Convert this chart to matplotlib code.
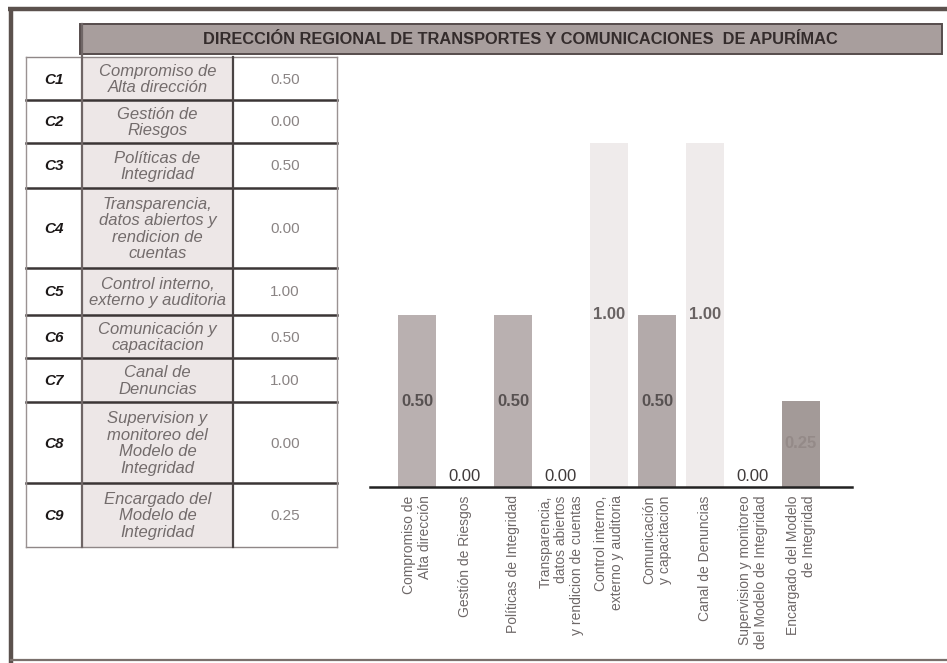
import matplotlib
matplotlib.use('Agg')
import matplotlib.pyplot as plt
from matplotlib.patches import Rectangle
import numpy as np

plt.rcParams['font.family'] = ['Liberation Sans', 'DejaVu Sans']

# ---------------- data ----------------
title = "DIRECCIÓN REGIONAL DE TRANSPORTES Y COMUNICACIONES  DE APURÍMAC"
codes = ["C1", "C2", "C3", "C4", "C5", "C6", "C7", "C8", "C9"]
table_names = [
    "Compromiso de\nAlta dirección",
    "Gestión de\nRiesgos",
    "Políticas de\nIntegridad",
    "Transparencia,\ndatos abiertos y\nrendicion de\ncuentas",
    "Control interno,\nexterno y auditoria",
    "Comunicación y\ncapacitacion",
    "Canal de\nDenuncias",
    "Supervision y\nmonitoreo del\nModelo de\nIntegridad",
    "Encargado del\nModelo de\nIntegridad",
]
table_values = ["0.50", "0.00", "0.50", "0.00", "1.00", "0.50", "1.00", "0.00", "0.25"]
bar_labels = [
    "Compromiso de\nAlta dirección",
    "Gestión de Riesgos",
    "Políticas de Integridad",
    "Transparencia,\ndatos abiertos\ny rendicion de cuentas",
    "Control interno,\nexterno y auditoria",
    "Comunicación\ny capacitacion",
    "Canal de Denuncias",
    "Supervision y monitoreo\ndel Modelo de Integridad",
    "Encargado del Modelo\nde Integridad",
]
bar_values = [0.50, 0.00, 0.50, 0.00, 1.00, 0.50, 1.00, 0.00, 0.25]

# ---------------- styles ----------------
bar_colors = ["#b9b0b0", "#b9b0b0", "#b9b0b0", "#b9b0b0", "#efebeb",
              "#b3aaaa", "#efebeb", "#b9b0b0", "#a39a98"]
label_colors = ["#575151", "#3f3a3a", "#575151", "#3f3a3a", "#686262",
                "#575151", "#686262", "#3f3a3a", "#948a88"]

W, H = 947, 663
fig = plt.figure(figsize=(W / 100, H / 100), dpi=100)
fig.patch.set_facecolor("white")

bg = fig.add_axes([0, 0, 1, 1])
bg.set_xlim(0, W)
bg.set_ylim(H, 0)
bg.axis("off")

# outer frame
frame_c = "#5b514d"
bg.plot([8, W], [9, 9], color=frame_c, lw=3.2, solid_capstyle="butt")
bg.plot([10.5, 10.5], [8, H], color=frame_c, lw=3.2, solid_capstyle="butt")
bg.plot([10, W], [660, 660], color="#7a706c", lw=1.6, solid_capstyle="butt")

# header band
bg.add_patch(Rectangle((80, 24), 862, 30, facecolor="#a89e9d",
                       edgecolor="#564c4c", lw=1.4))
bg.text(520, 39.5, title, ha="center", va="center", fontsize=11.8,
        fontweight="bold", color="#342c2c")

# table
row_edges = [57, 100, 143, 188, 268, 315, 358, 402, 483, 547]
col_edges = [26, 82, 233, 337]
x0, x1, x2, x3 = col_edges
for i, code in enumerate(codes):
    ya, yb = row_edges[i], row_edges[i + 1]
    yc = (ya + yb) / 2
    bg.add_patch(Rectangle((x1, ya), x2 - x1, yb - ya, facecolor="#ede7e7",
                           edgecolor="none"))
    bg.text((x0 + x1) / 2, yc + 1, code, ha="center", va="center",
            fontsize=11, fontweight="bold", fontstyle="italic",
            color="#1c1818")
    bg.text((x1 + x2) / 2, yc + 1, table_names[i], ha="center", va="center",
            fontsize=12, fontstyle="italic", color="#736c6c",
            linespacing=1.12, multialignment="center")
    bg.text((x2 + x3) / 2, yc + 1, table_values[i], ha="center",
            va="center", fontsize=11, color="#8a8484")

# table lines
for k, y in enumerate(row_edges):
    if k == 0 or k == len(row_edges) - 1:
        bg.plot([x0, x3], [y, y], color="#8f8787", lw=1.0)
    else:
        bg.plot([x0, x3], [y, y], color="#3b3535", lw=1.8)
bg.plot([x0, x0], [row_edges[0], row_edges[-1]], color="#9a9292", lw=1.0)
bg.plot([x1, x1], [24, row_edges[-1]], color="#6f6666", lw=1.6)
bg.plot([x2, x2], [row_edges[0], row_edges[-1]], color="#4a4444", lw=1.6)
bg.plot([x3, x3], [row_edges[0], row_edges[-1]], color="#9a9292", lw=1.0)

# bar chart
ax_l, ax_r, ax_b, ax_t = 370, 852, 487, 143
ax = fig.add_axes([ax_l / W, (H - ax_b) / H, (ax_r - ax_l) / W,
                   (ax_b - ax_t) / H])
ax.patch.set_alpha(0)
x = np.arange(len(bar_values))
ax.bar(x, bar_values, width=0.8, color=bar_colors, edgecolor="none")
ax.set_xlim(-0.979, 9.0625)
ax.set_ylim(0, 1.0)
for s in ["top", "left", "right"]:
    ax.spines[s].set_visible(False)
ax.spines["bottom"].set_linewidth(1.8)
ax.spines["bottom"].set_color("#222222")
ax.set_yticks([])
ax.set_xticks(x)
ax.set_xticklabels(bar_labels, rotation=90, fontsize=10, color="#6e6868",
                   ha="center", va="top", multialignment="right",
                   linespacing=1.15)
ax.tick_params(axis="x", length=0, pad=6)

for xi, v, c in zip(x, bar_values, label_colors):
    if v > 0:
        ax.text(xi, v / 2, f"{v:.2f}", ha="center", va="center",
                fontsize=12, fontweight="bold", color=c)
    else:
        ax.annotate(f"{v:.2f}", (xi, 0), xytext=(0, 2.5),
                    textcoords="offset points", ha="center", va="bottom",
                    fontsize=12, color=c)

fig.savefig("out.png", dpi=100, facecolor="white")
